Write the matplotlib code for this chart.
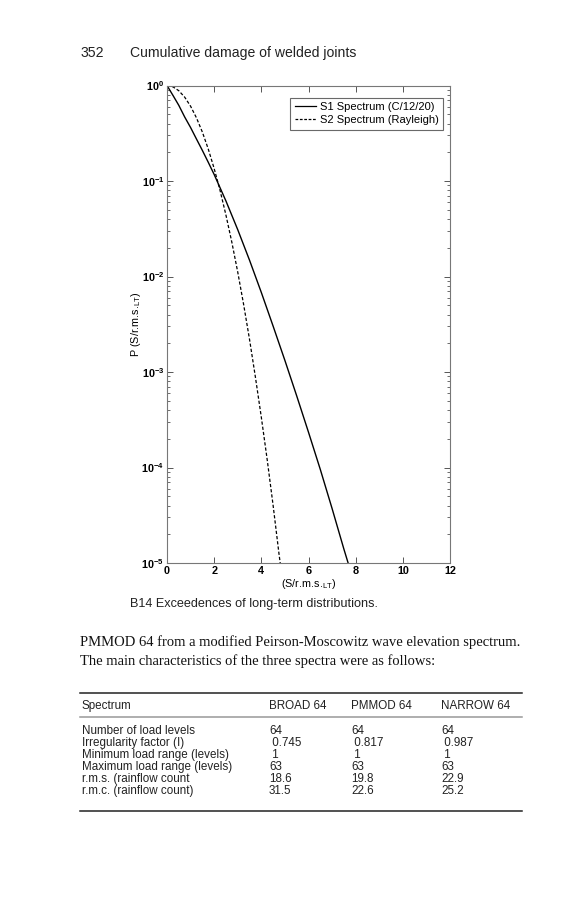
import numpy as np
import matplotlib.pyplot as plt
from matplotlib.ticker import LogLocator, FixedLocator
from matplotlib.lines import Line2D

plt.rcParams['font.family'] = ['Liberation Sans', 'DejaVu Sans']

# values
s1_x = [0, 0.25, 0.5, 0.75, 1.0, 1.25, 1.5, 1.75, 2.0, 2.5, 3.0, 3.5, 4.0,
        4.5, 5.0, 5.5, 6.0, 6.5, 7.0, 7.5, 7.68]
s1_p = [1.0, 0.79, 0.62, 0.468, 0.363, 0.275, 0.209, 0.157, 0.117, 0.0617,
        0.0309, 0.0148, 6.8e-3, 3.02e-3, 1.32e-3, 5.62e-4, 2.34e-4, 9.55e-5,
        3.72e-5, 1.40e-5, 1.0e-5]
s2_x = [0, 0.25, 0.5, 0.75, 1.0, 1.25, 1.5, 1.75, 2.0, 2.25, 2.5, 2.75, 3.0,
        3.25, 3.5, 3.75, 4.0, 4.25, 4.5, 4.75, 4.8]
s2_p = [1.0, 0.969, 0.882, 0.755, 0.607, 0.458, 0.325, 0.216, 0.135, 0.0796,
        0.0439, 0.0228, 0.0111, 5.08e-3, 2.19e-3, 8.8e-4, 3.35e-4, 1.2e-4,
        4.0e-5, 1.24e-5, 1.0e-5]
labels = ['S1 Spectrum (C/12/20)', 'S2 Spectrum (Rayleigh)']
x_ticks = [0, 2, 4, 6, 8, 10, 12]

table_cols = ['Spectrum', 'BROAD 64', 'PMMOD 64', 'NARROW 64']
table_rows = ['Number of load levels', 'Irregularity factor (I)',
              'Minimum load range (levels)', 'Maximum load range (levels)',
              'r.m.s. (rainflow count', 'r.m.c. (rainflow count)']
broad = ['64', ' 0.745', ' 1', '63', '18.6', '31.5']
pmmod = ['64', ' 0.817', ' 1', '63', '19.8', '22.6']
narrow = ['64', ' 0.987', ' 1', '63', '22.9', '25.2']

W, H = 588, 900
fig = plt.figure(figsize=(W / 100, H / 100), dpi=100)
fig.patch.set_facecolor('white')

ax = fig.add_axes([167 / W, 1 - 563 / H, 283 / W, 477.5 / H])
ax.plot(s1_x, s1_p, color='black', lw=1.0)
ax.plot(s2_x, s2_p, color='black', lw=0.9, ls=(0, (2.6, 1.6)))
ax.set_yscale('log')
ax.set_xlim(0, 12)
ax.set_ylim(1e-5, 1)
ax.xaxis.set_major_locator(FixedLocator(x_ticks))
ax.yaxis.set_major_locator(LogLocator(base=10, numticks=10))
ax.yaxis.set_minor_locator(LogLocator(base=10, subs=np.arange(2, 10), numticks=20))
ax.tick_params(which='both', direction='in', top=True, right=True,
               color='#555555', labelsize=7.8, pad=2)
ax.tick_params(which='major', length=4, width=0.7)
ax.tick_params(which='minor', length=2, width=0.6)
for lab in ax.get_xticklabels() + ax.get_yticklabels():
    lab.set_fontweight('bold')
for sp in ax.spines.values():
    sp.set_color('#777777')
    sp.set_linewidth(0.8)
ax.set_xlabel('(S/r.m.s.$_{\\mathregular{LT}}$)', fontsize=7.8, labelpad=1)
ax.set_ylabel('P (S/r.m.s.$_{\\mathregular{LT}}$)', fontsize=7.8, labelpad=-1)

handles = [Line2D([], [], color='black', lw=0.9),
           Line2D([], [], color='black', lw=0.9, ls=(0, (2.2, 1.3)))]
leg = ax.legend(handles, labels, loc='upper right', fontsize=8.0,
                frameon=True, fancybox=False, edgecolor='#444444',
                handlelength=1.9, handletextpad=0.35, borderpad=0.4,
                labelspacing=0.25, borderaxespad=0,
                bbox_to_anchor=(0.975, 0.974))
leg.get_frame().set_linewidth(0.8)

def fx(px):
    return px / W

def fy(py):
    return 1 - py / H

# page header
fig.text(fx(81), fy(53), '352', fontsize=10.2, va='center', color='#222222')
fig.text(fx(130), fy(53), 'Cumulative damage of welded joints', fontsize=10.1,
         va='center', color='#222222')

# caption
fig.text(fx(130), fy(604), 'B14 Exceedences of long-term distributions.',
         fontsize=9.1, va='center', color='#222222')

# body text
serif = ['Liberation Serif', 'DejaVu Serif']
fig.text(fx(80), fy(642),
         'PMMOD 64 from a modified Peirson-Moscowitz wave elevation spectrum.',
         fontsize=10.5, family=serif, va='center', color='#111111')
fig.text(fx(80), fy(661),
         'The main characteristics of the three spectra were as follows:',
         fontsize=10.5, family=serif, va='center', color='#111111')

# table
fig.add_artist(Line2D([fx(80), fx(522)], [fy(693), fy(693)], color='#222222', lw=1.1))
fig.add_artist(Line2D([fx(80), fx(522)], [fy(717), fy(717)], color='#999999', lw=1.1))
fig.add_artist(Line2D([fx(80), fx(522)], [fy(811), fy(811)], color='#222222', lw=1.1))
col_x = [82, 269, 351, 441]
for cx, name in zip(col_x, table_cols):
    fig.text(fx(cx), fy(706), name, fontsize=8.4, va='center', color='#222222')
row_y = [731, 743, 755, 767, 779, 791]
for i, ry in enumerate(row_y):
    vals = [table_rows[i], broad[i], pmmod[i], narrow[i]]
    for cx, v in zip(col_x, vals):
        fig.text(fx(cx), fy(ry), v, fontsize=8.4, va='center', color='#222222')

fig.savefig('out.png', dpi=100)
